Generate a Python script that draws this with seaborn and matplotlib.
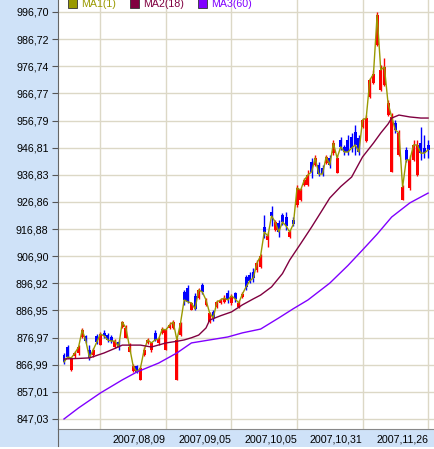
import matplotlib
matplotlib.use("Agg")
import matplotlib.pyplot as plt
import matplotlib.transforms as mtransforms
from matplotlib.lines import Line2D
from matplotlib.patches import Rectangle
import seaborn as sns
import pandas as pd

# daily candles (trading day index 0..100)
open_ = [870.6, 873.5, 865.1, 870.2, 871.3, 877.2, 877.6, 872.4, 870.6, 877.6,
         874.2, 878.7, 877.9, 877.2, 873.5, 875.3, 880.9, 876.8, 871.7, 864.7,
         866.5, 861.4, 870.6, 875.0, 872.4, 878.7, 875.0, 878.7, 872.4, 880.5,
         880.5, 861.4, 877.9, 893.7, 895.2, 887.1, 892.3, 891.5, 896.3, 888.9,
         882.7, 886.4, 888.2, 889.7, 890.1, 893.4, 889.7, 893.4, 888.2, 891.9,
         899.2, 900.0, 901.1, 901.8, 902.9, 917.6, 912.9, 923.1, 916.5, 919.1,
         922.0, 921.3, 914.0, 920.2, 925.7, 927.6, 933.1, 933.1, 941.5, 940.4,
         940.4, 939.3, 941.2, 943.0, 944.8, 937.5, 949.6, 947.1, 949.6, 950.7,
         952.6, 950.4, 954.4, 949.3, 965.4, 970.6, 984.6, 968.0, 969.9, 958.8,
         937.9, 955.9, 944.1, 927.6, 946.0, 932.0, 942.3, 936.8, 948.5, 946.7,
         947.8]
high = [871.3, 874.2, 869.8, 872.0, 874.2, 880.5, 877.9, 874.2, 873.1, 878.3,
        879.0, 879.8, 878.7, 877.9, 876.5, 876.1, 883.1, 881.6, 875.0, 867.3,
        866.9, 866.5, 873.5, 876.8, 875.3, 879.8, 877.2, 880.9, 880.5, 882.7,
        883.4, 876.8, 882.7, 894.5, 896.3, 890.1, 893.4, 895.2, 897.0, 891.5,
        886.4, 887.1, 890.8, 891.5, 892.6, 894.5, 893.0, 893.7, 890.8, 893.7,
        900.0, 901.1, 902.6, 905.5, 907.7, 922.0, 915.8, 925.4, 920.2, 920.2,
        922.8, 923.1, 916.5, 921.3, 933.1, 932.0, 935.7, 938.6, 943.0, 944.1,
        941.5, 940.4, 944.1, 944.1, 949.6, 944.1, 950.7, 947.8, 951.5, 952.2,
        955.1, 951.5, 957.7, 958.8, 972.4, 975.4, 996.7, 977.2, 979.8, 964.3,
        959.6, 957.0, 953.3, 933.1, 947.1, 944.1, 949.6, 949.6, 954.4, 951.5,
        949.6]
low = [867.3, 869.5, 864.7, 869.5, 870.6, 876.8, 875.0, 868.7, 869.8, 874.6,
       874.2, 876.8, 875.3, 875.0, 873.1, 872.4, 880.5, 876.8, 871.7, 864.3,
       864.0, 861.4, 870.2, 874.6, 871.7, 875.7, 874.2, 878.3, 872.4, 880.1,
       880.1, 861.4, 877.6, 888.9, 889.7, 887.1, 887.1, 891.2, 893.0, 888.6,
       882.3, 883.1, 887.8, 889.3, 889.7, 889.7, 888.9, 890.1, 887.8, 891.5,
       894.5, 897.0, 897.4, 901.1, 902.6, 913.6, 910.3, 918.0, 916.2, 914.0,
       918.4, 916.5, 913.6, 918.0, 925.0, 927.2, 932.7, 932.7, 935.7, 940.1,
       936.4, 936.4, 940.8, 939.3, 944.1, 937.5, 946.0, 944.1, 944.1, 945.2,
       944.1, 944.1, 954.0, 948.9, 965.1, 970.2, 984.2, 967.6, 969.5, 958.4,
       937.9, 952.2, 943.7, 927.6, 941.5, 931.2, 941.9, 936.4, 942.3, 943.0,
       943.0]
close = [868.0, 869.8, 869.5, 871.3, 873.5, 879.8, 875.7, 869.5, 872.4, 875.3,
         878.3, 877.6, 876.1, 875.7, 875.7, 873.5, 882.7, 880.5, 873.5, 866.5,
         864.3, 865.8, 872.4, 876.1, 875.0, 876.1, 876.5, 880.1, 879.8, 881.6,
         882.7, 876.1, 882.3, 890.8, 890.1, 889.7, 887.5, 894.5, 893.7, 890.8,
         886.0, 884.2, 890.1, 890.8, 891.5, 890.8, 892.3, 891.2, 889.7, 893.0,
         895.6, 897.8, 898.9, 904.4, 907.0, 915.8, 914.3, 921.7, 919.5, 915.8,
         919.5, 918.0, 915.8, 918.7, 932.0, 931.2, 934.9, 936.8, 937.9, 943.0,
         937.1, 937.1, 943.4, 940.4, 948.5, 943.0, 947.1, 945.2, 945.2, 946.7,
         947.8, 945.2, 957.0, 957.7, 971.7, 973.9, 995.6, 975.4, 976.5, 963.2,
         958.1, 953.3, 952.2, 932.3, 942.3, 942.3, 947.8, 947.8, 944.8, 944.8,
         946.0]

# moving averages
ma2_days = [0, 4, 7, 9, 11, 14, 16, 21, 24, 28, 31, 33, 35, 37, 39, 40, 43, 46,
            49, 52, 54, 57, 60, 62, 65, 68, 71, 73, 76, 79, 82, 85, 87, 89, 90,
            92, 95, 98, 100]
ma2_vals = [869.1, 869.3, 869.5, 870.4, 871.3, 873.0, 874.2, 874.2, 873.5,
            875.0, 875.6, 876.1, 876.9, 877.9, 880.5, 883.4, 885.0, 886.4,
            889.0, 891.2, 892.6, 895.6, 900.5, 905.5, 911.5, 917.6, 924.0,
            928.3, 932.5, 936.0, 943.4, 948.5, 952.2, 955.5, 957.7, 958.8,
            958.1, 957.7, 957.7]
ma3_days = [0, 4, 10, 16, 20, 26, 31, 35, 40, 45, 49, 54, 59, 63, 67, 73, 78,
            82, 86, 90, 95, 100]
ma3_vals = [847.03, 851.1, 856.6, 861.4, 864.3, 867.6, 871.3, 875.0, 876.1,
            877.2, 878.7, 880.1, 884.2, 887.6, 890.8, 897.0, 903.5, 909.2,
            915.0, 921.3, 926.5, 930.1]

ytick_labels = ['847,03', '857,01', '866,99', '876,97', '886,95', '896,92',
                '906,90', '916,88', '926,86', '936,83', '946,81', '956,79',
                '966,77', '976,74', '986,72', '996,70']
xtick_days = [10, 28, 46, 64, 82, 100]
xtick_labels = ['', '2007,08,09', '2007,09,05', '2007,10,05', '2007,10,31',
                '2007,11,26']

legend_names = ['MA1(1)', 'MA2(18)', 'MA3(60)']
c_ma1, c_ma2, c_ma3 = '#999900', '#800040', '#8000ff'
c_up, c_down = '#ff0000', '#0000ff'
panel = '#cfe2f8'
grid_c = '#dcd8c6'

plt.rcParams['font.family'] = ['Liberation Sans', 'DejaVu Sans']

fig = plt.figure(figsize=(4.35, 4.49), dpi=100, facecolor=panel)
ax = fig.add_axes([58 / 435, 1 - 429 / 449, 1 - 58 / 435, 429 / 449])
ax.set_facecolor('white')

days = list(range(len(close)))
df = pd.DataFrame({'day': days, 'open': open_, 'high': high, 'low': low, 'close': close})
df['color'] = [c_up if c >= o else c_down for o, c in zip(open_, close)]

# candles
ax.vlines(df['day'], df['low'], df['high'], colors=df['color'], lw=1, zorder=2)
body_bottom = df[['open', 'close']].min(axis=1)
body_h = (df['close'] - df['open']).abs().clip(lower=0.5)
ax.bar(df['day'], body_h, bottom=body_bottom, width=0.82, color=df['color'],
       linewidth=0, zorder=3)

# lines
sns.lineplot(x=days, y=close, ax=ax, color=c_ma1, lw=1, zorder=4)
sns.lineplot(x=ma2_days, y=ma2_vals, ax=ax, color=c_ma2, lw=1, zorder=5)
sns.lineplot(x=ma3_days, y=ma3_vals, ax=ax, color=c_ma3, lw=1, zorder=5)

yticks = [float(s.replace(',', '.')) for s in ytick_labels]
ax.set_ylim(843.35, 1001.11)
ax.set_xlim(-1.65, 101.9)
ax.set_yticks(yticks)
ax.set_yticklabels(ytick_labels)
ax.set_xticks(xtick_days)
ax.set_xticklabels(xtick_labels, ha='right')
offset = mtransforms.ScaledTranslation(-3 / 100, 0, fig.dpi_scale_trans)
for lab in ax.get_xticklabels():
    lab.set_transform(lab.get_transform() + offset)

ax.grid(True, color=grid_c, lw=1, zorder=0)
ax.set_axisbelow(True)
ax.tick_params(axis='y', length=4.3, width=0.8, color='#555555', pad=2.5,
               labelsize=7.7, labelcolor='black')
ax.tick_params(axis='x', length=0, pad=4, labelsize=7.7, labelcolor='black')
for s in ['top', 'right']:
    ax.spines[s].set_visible(False)
ax.spines['left'].set_color('#666666')
ax.spines['bottom'].set_color('#888888')
ax.set_xlabel('')
ax.set_ylabel('')

# separator through the date band and a strip at the bottom
fig.add_artist(Line2D([58 / 435, 58 / 435], [3 / 449, 20 / 449],
                      transform=fig.transFigure, color='#666666', lw=0.8))
fig.add_artist(Rectangle((0, 0), 1, 2.5 / 449, transform=fig.transFigure,
                         facecolor='white', edgecolor='none'))

# legend at top
for xs, name, col in zip([68, 130, 198], legend_names, [c_ma1, c_ma2, c_ma3]):
    fig.add_artist(Rectangle((xs / 435, 1 - 8 / 449), 9 / 435, 10 / 449,
                             transform=fig.transFigure, facecolor=col,
                             edgecolor='#333333', lw=0.6, zorder=10))
    fig.text((xs + 13) / 435, 1 - 4 / 449, name, color=col, fontsize=7.7,
             va='center', ha='left', zorder=10)

fig.savefig('out.png', dpi=100, facecolor=panel)
